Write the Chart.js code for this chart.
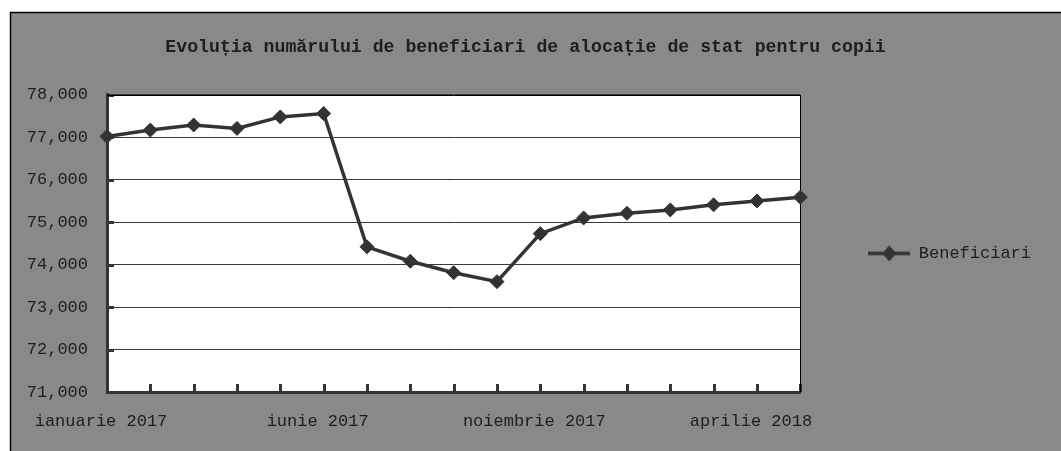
<!DOCTYPE html>
<html>
<head>
<meta charset="utf-8">
<script src="https://cdn.jsdelivr.net/npm/chart.js@4.4.1/dist/chart.umd.min.js"></script>
<style>
    html, body { margin: 0; padding: 0; background: #fff; }
    #wrap { width: 1061px; height: 451px; }
</style>
</head>
<body>
<div id="wrap"><canvas id="beneficiari-chart" width="1061" height="451"></canvas></div>
<script>
// date
const luni = ['ianuarie 2017', 'februarie 2017', 'martie 2017', 'aprilie 2017', 'mai 2017', 'iunie 2017',
    'iulie 2017', 'august 2017', 'septembrie 2017', 'octombrie 2017', 'noiembrie 2017', 'decembrie 2017',
    'ianuarie 2018', 'februarie 2018', 'martie 2018', 'aprilie 2018', 'mai 2018'];
const beneficiari = [77020, 77170, 77290, 77210, 77480, 77560, 74420, 74080, 73810, 73600,
    74730, 75100, 75210, 75290, 75410, 75500, 75590];
const yMin = 71000;
const yMax = 78000;
const yPas = 1000;
const titlu = 'Evoluția numărului de beneficiari de alocație de stat pentru copii';

const FONT = "'Liberation Mono', 'DejaVu Sans Mono', monospace";
const DARK = '#333333';

// iconita legendei: linie cu romb
const legendIcon = document.createElement('canvas');
legendIcon.width = 42;
legendIcon.height = 16;
(function() {
    const c = legendIcon.getContext('2d');
    c.fillStyle = DARK;
    c.strokeStyle = DARK;
    c.lineWidth = 3.5;
    c.beginPath();
    c.moveTo(0, 8);
    c.lineTo(42, 8);
    c.stroke();
    c.beginPath();
    c.moveTo(21, 0);
    c.lineTo(28, 8);
    c.lineTo(21, 16);
    c.lineTo(14, 8);
    c.closePath();
    c.fill();
})();

const fundal = {
    id: 'fundal',
    beforeDraw(chart) {
        const ctx = chart.ctx;
        const a = chart.chartArea;
        ctx.save();
        ctx.fillStyle = '#ffffff';
        ctx.fillRect(0, 0, chart.width, chart.height);
        ctx.fillStyle = '#898989';
        ctx.fillRect(10, 12, chart.width - 10, chart.height - 12);
        ctx.strokeStyle = '#000';
        ctx.lineWidth = 1.5;
        ctx.beginPath();
        ctx.moveTo(10.5, chart.height);
        ctx.lineTo(10.5, 12.5);
        ctx.lineTo(chart.width, 12.5);
        ctx.stroke();
        ctx.fillStyle = '#ffffff';
        ctx.fillRect(a.left, a.top, a.right - a.left, a.bottom - a.top);
        ctx.restore();
    },
    beforeDatasetsDraw(chart) {
        // liniutele interioare ale axelor
        const ctx = chart.ctx;
        const a = chart.chartArea;
        const x = chart.scales.x;
        const y = chart.scales.y;
        ctx.save();
        ctx.strokeStyle = DARK;
        ctx.lineWidth = 3;
        ctx.beginPath();
        y.ticks.forEach(function(t) {
            const py = Math.round(y.getPixelForValue(t.value)) + 0.5;
            ctx.moveTo(a.left, py);
            ctx.lineTo(a.left + 7, py);
        });
        x.ticks.forEach(function(t, i) {
            const px = Math.round(x.getPixelForTick(i)) + 0.5;
            ctx.moveTo(px, a.bottom);
            ctx.lineTo(px, a.bottom - 8);
        });
        ctx.stroke();
        ctx.strokeStyle = '#000';
        ctx.lineWidth = 1;
        ctx.beginPath();
        ctx.moveTo(Math.round(a.right) + 0.5, a.top);
        ctx.lineTo(Math.round(a.right) + 0.5, a.bottom);
        ctx.moveTo(a.left, Math.round(a.top) + 0.5);
        ctx.lineTo(a.right, Math.round(a.top) + 0.5);
        ctx.stroke();
        ctx.restore();
    }
};

const ctx = document.getElementById('beneficiari-chart');
const chart = new Chart(ctx, {
    type: 'line',
    data: {
        labels: luni,
        datasets: [{
            label: 'Beneficiari',
            data: beneficiari,
            borderColor: DARK,
            backgroundColor: DARK,
            borderWidth: 3.5,
            pointStyle: 'rectRot',
            pointRadius: 7,
            pointBackgroundColor: DARK,
            pointBorderColor: DARK,
            pointBorderWidth: 1,
            tension: 0,
            clip: false
        }]
    },
    options: {
        responsive: false,
        animation: false,
        layout: {
            padding: { left: 10, top: 12, right: 20, bottom: 0 }
        },
        scales: {
            x: {
                offset: false,
                grid: { display: false, drawTicks: false },
                border: { display: true, color: DARK, width: 3 },
                ticks: {
                    autoSkip: false,
                    maxRotation: 0,
                    padding: 19,
                    labelOffset: -6,
                    color: '#1e1e1e',
                    font: { family: FONT, size: 17 },
                    callback: function(value, index) {
                        return index % 5 === 0 ? luni[index] : '';
                    }
                },
                afterFit: function(scale) {
                    scale.height = 59;
                }
            },
            y: {
                min: yMin,
                max: yMax,
                grid: { color: '#3a3a3a', lineWidth: 1, drawTicks: false },
                border: { display: true, color: DARK, width: 3 },
                ticks: {
                    stepSize: yPas,
                    padding: 19,
                    color: '#1e1e1e',
                    font: { family: FONT, size: 17 },
                    callback: function(value) {
                        return value.toLocaleString('en-US');
                    }
                },
                afterFit: function(scale) {
                    scale.width = 97;
                }
            }
        },
        plugins: {
            title: {
                display: true,
                text: titlu,
                color: '#1e1e1e',
                font: { family: FONT, size: 18.2, weight: 'bold' },
                padding: { top: 24, bottom: 37 }
            },
            legend: {
                position: 'right',
                fullSize: false,
                maxWidth: 261,
                title: {
                    display: true,
                    text: ' ',
                    padding: 0,
                    font: { size: 10, lineHeight: 2 }
                },
                labels: {
                    usePointStyle: true,
                    pointStyle: legendIcon,
                    pointStyleWidth: 42,
                    padding: 68,
                    color: '#1e1e1e',
                    font: { family: FONT, size: 17 }
                }
            },
            tooltip: { enabled: false }
        }
    },
    plugins: [fundal]
});
</script>
</body>
</html>
